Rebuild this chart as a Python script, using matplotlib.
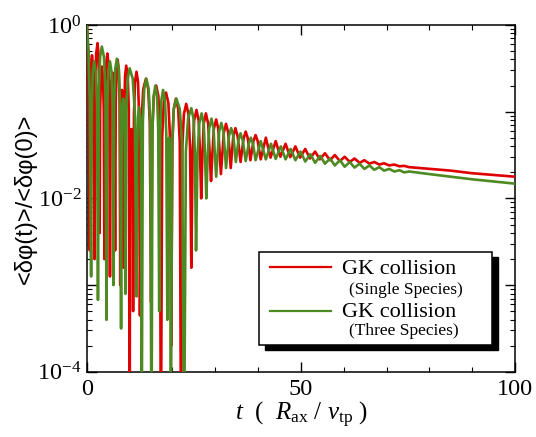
import matplotlib
matplotlib.use('Agg')
import matplotlib.pyplot as plt
import numpy as np
from matplotlib.ticker import FixedLocator, LogLocator, NullFormatter
from matplotlib.patches import Rectangle
from matplotlib.lines import Line2D

# ---- data (t, log10 of <dphi(t)>/<dphi(0)>) ----
red_t = [0, 0.3, 0.7,
         0.83, 0.98, 1.2, 1.47, 1.65, 1.8,
         1.98, 2.19, 2.5, 2.72, 2.88, 3.0,
         3.12, 3.28, 3.5, 3.77, 3.95, 4.1,
         4.28, 4.49, 4.8, 5.07, 5.25, 5.4,
         5.55, 5.73, 6.0, 6.27, 6.45, 6.6,
         6.75, 6.93, 7.2, 7.47, 7.65, 7.8,
         7.9, 8.02, 8.2, 8.38, 8.5, 8.6,
         8.75, 8.93, 9.2, 9.56, 9.8, 10.0,
         10.1, 10.22, 10.4, 10.58, 10.7, 10.8,
         11.0, 11.24, 11.6, 11.96, 12.2, 12.4,
         12.75, 13.17, 13.8, 14.34, 14.7, 15.0,
         15.3, 15.66, 16.2, 16.7, 17.03, 17.3,
         17.6, 17.96, 18.5, 19.04, 19.4, 19.7,
         19.98, 20.3, 20.8, 21.34, 21.7, 22.0,
         22.3, 22.66, 23.2, 23.74, 24.1, 24.4,
         24.7, 25.06, 25.6, 26.1, 26.43, 26.7,
         27.0, 27.3, 27.8, 28.34, 28.7, 29.0,
         29.3, 29.66, 30.2, 30.7, 31.0, 31.3,
         32.0, 32.5, 33.0, 33.6,
         34.2, 34.7, 35.2, 35.9,
         36.6, 37.1, 37.6, 38.2,
         38.9, 39.4, 39.9, 40.6,
         41.8, 42.9, 44.1, 45.2, 46.4, 47.5, 48.7, 49.8, 51.0, 52.1,
         53.3, 54.4, 55.6, 56.8, 57.9, 59.1, 60.2, 61.4, 62.5, 63.7,
         64.8, 66.0, 67.1, 68.3, 69.4, 70.6, 71.8, 73.0, 74.1, 75.3,
         80, 85, 90, 95, 100]
red_log = [0, -0.3, -2.6,
           -0.85, -0.47, -0.35, -0.47, -0.85, -2.7,
           -0.71, -0.33, -0.21, -0.33, -0.71, -2.4,
           -0.98, -0.6, -0.48, -0.6, -0.98, -2.7,
           -0.83, -0.45, -0.33, -0.45, -0.83, -2.9,
           -1.05, -0.67, -0.55, -0.67, -1.05, -2.6,
           -0.9, -0.52, -0.40, -0.52, -0.9, -3.0,
           -1.25, -0.87, -0.75, -0.87, -1.25, -2.8,
           -0.97, -0.59, -0.47, -0.59, -0.97, -5,
           -1.7, -1.32, -1.2, -1.32, -1.7, -3.3,
           -1.04, -0.66, -0.54, -0.66, -1.04, -3.35,
           -1.12, -0.74, -0.62, -0.74, -1.12, -3.2,
           -1.2, -0.82, -0.70, -0.82, -1.2, -5,
           -1.28, -0.9, -0.78, -0.9, -1.28, -3.7,
           -1.35, -0.97, -0.85, -0.97, -1.35, -5,
           -1.41, -1.03, -0.91, -1.03, -1.41, -2.8,
           -1.48, -1.1, -0.98, -1.1, -1.48, -2.0,
           -1.5, -1.14, -1.02, -1.14, -1.5, -1.8,
           -1.5, -1.2, -1.09, -1.2, -1.45, -1.72,
           -1.24, -1.14, -1.24, -1.65,
           -1.28, -1.19, -1.28, -1.58,
           -1.31, -1.23, -1.31, -1.56,
           -1.34, -1.27, -1.34, -1.55,
           -1.30, -1.53, -1.34, -1.52, -1.37, -1.525, -1.40, -1.53, -1.43, -1.54,
           -1.46, -1.55, -1.48, -1.56, -1.50, -1.57, -1.52, -1.58, -1.54, -1.59,
           -1.56, -1.60, -1.58, -1.61, -1.595, -1.62, -1.61, -1.63, -1.625, -1.64,
           -1.66, -1.68, -1.71, -1.73, -1.75]

green_t = [0, 0.4, 0.7, 1.0,
           1.18, 1.39, 1.7, 2.1, 2.38, 2.6,
           2.83, 3.1, 3.5, 4.0, 4.33, 4.6,
           4.8, 5.04, 5.4, 5.76, 6.0, 6.2,
           6.4, 6.64, 7.0, 7.45, 7.75, 8.0,
           8.13, 8.28, 8.5, 8.72, 8.87, 9.0,
           9.25, 9.55, 10.0, 10.72, 11.2, 11.6,
           11.75, 11.93, 12.2, 12.47, 12.65, 12.8,
           13.08, 13.4, 13.9, 14.44, 14.8, 15.1,
           15.33, 15.6, 16.0, 16.4, 16.67, 16.9,
           17.13, 17.4, 17.8, 18.25, 18.55, 18.8,
           18.9, 19.02, 19.2, 19.38, 19.5, 19.6,
           19.93, 20.3, 20.9, 21.7, 22.25, 22.7,
           23.13, 23.64, 24.4, 24.9, 25.23, 25.5,
           25.85, 26.25, 26.8, 27.3, 27.6, 27.9,
           28.2, 28.55, 29.1, 29.6, 29.9, 30.2,
           30.9, 31.4, 31.9, 32.5,
           33.2, 33.7, 34.2, 34.8,
           35.4, 35.9, 36.4, 37.1,
           37.8, 38.3, 38.8, 39.4,
           40.6, 41.8, 43.0, 44.1, 45.3, 46.4, 47.6, 48.7, 49.9, 51.0,
           52.2, 53.3, 54.5, 55.6, 56.8, 57.9, 59.1, 60.2, 61.4, 62.5,
           63.7, 64.8, 66.0, 67.1, 68.3, 69.4, 70.6, 71.8, 73.0, 74.1, 75.3,
           80, 85, 90, 95, 100]
green_log = [0, -0.3, -0.9, -2.9,
             -0.92, -0.54, -0.42, -0.54, -0.92, -3.17,
             -0.75, -0.37, -0.25, -0.37, -0.75, -3.4,
             -0.92, -0.54, -0.42, -0.54, -0.92, -3.0,
             -0.89, -0.51, -0.39, -0.51, -0.89, -3.5,
             -1.35, -0.97, -0.85, -0.97, -1.35, -3.1,
             -1.0, -0.62, -0.50, -0.62, -1.0, -3.13,
             -1.45, -1.07, -0.95, -1.07, -1.45, -5,
             -1.12, -0.74, -0.62, -0.74, -1.12, -5,
             -1.2, -0.82, -0.70, -0.82, -1.2, -3.3,
             -1.25, -0.87, -0.75, -0.87, -1.25, -3.4,
             -1.8, -1.42, -1.3, -1.42, -1.8, -5,
             -1.35, -0.97, -0.85, -0.97, -1.35, -5,
             -1.46, -1.08, -0.96, -1.08, -1.46, -2.6,
             -1.5, -1.14, -1.02, -1.14, -1.5, -2.0,
             -1.55, -1.2, -1.08, -1.2, -1.5, -1.75,
             -1.23, -1.13, -1.23, -1.65,
             -1.28, -1.19, -1.28, -1.58,
             -1.33, -1.25, -1.33, -1.57,
             -1.37, -1.30, -1.37, -1.56,
             -1.34, -1.55, -1.37, -1.545, -1.40, -1.55, -1.43, -1.56, -1.46, -1.575,
             -1.49, -1.59, -1.51, -1.60, -1.54, -1.62, -1.56, -1.635, -1.58, -1.645,
             -1.60, -1.66, -1.62, -1.67, -1.64, -1.68, -1.66, -1.69, -1.675, -1.70, -1.69,
             -1.72, -1.75, -1.78, -1.805, -1.83]

x_ticks = [0, 50, 100]
x_ticklabels = ['0', '50', '100']
y_ticks = [1e-4, 1e-3, 1e-2, 1e-1, 1]
y_ticklabels = [r'$10^{-4}$', '', r'$10^{-2}$', '', r'$10^{0}$']
legend_main = ['GK collision', 'GK collision']
legend_sub = ['(Single Species)', '(Three Species)']

RED = '#e00000'
GREEN = '#4e8a22'

plt.rcParams['font.family'] = ['Liberation Serif', 'DejaVu Serif']
plt.rcParams['mathtext.fontset'] = 'custom'
plt.rcParams['mathtext.rm'] = 'Liberation Serif'
plt.rcParams['mathtext.it'] = 'Liberation Serif:italic'

fig = plt.figure(figsize=(5.36, 4.37), dpi=100)
ax = fig.add_axes([0.162, 0.149, 0.799, 0.794])

ax.plot(red_t, 10.0 ** np.array(red_log), color=RED, lw=1.9, zorder=3)
ax.plot(green_t, 10.0 ** np.array(green_log), color=GREEN, lw=1.9, zorder=3)

ax.set_yscale('log')
ax.set_xlim(0, 100)
ax.set_ylim(1e-4, 1)

ax.xaxis.set_major_locator(FixedLocator(x_ticks))
ax.set_xticklabels(x_ticklabels)
ax.xaxis.set_minor_locator(FixedLocator([10, 20, 30, 40, 60, 70, 80, 90]))
ax.yaxis.set_major_locator(FixedLocator(y_ticks))
ax.set_yticklabels(y_ticklabels)
ax.yaxis.set_minor_locator(LogLocator(base=10, subs=np.arange(2, 10) * 1.0, numticks=20))
ax.yaxis.set_minor_formatter(NullFormatter())

ax.tick_params(which='both', direction='in', top=True, right=True, labelsize=17.5)
ax.tick_params(which='major', length=7, width=1)
ax.tick_params(which='minor', length=3.5, width=0.8)
ax.tick_params(axis='x', which='major', pad=5)
ax.tick_params(axis='y', which='major', pad=4)
for s in ax.spines.values():
    s.set_linewidth(1.1)

ax.set_ylabel('<δφ(t)>/<δφ(0)>', family=['Liberation Sans', 'DejaVu Sans'],
              fontsize=17, labelpad=0)
ax.set_xlabel(r'$t$  (  $R_{\mathrm{ax}}$ / $v_{\mathrm{tp}}$ )', fontsize=18, labelpad=0)

# legend drawn by hand (box with black drop shadow)
bx, by, bw, bh = 0.402, 0.078, 0.544, 0.268
ax.add_patch(Rectangle((bx + 0.013, by - 0.016), bw, bh, transform=ax.transAxes,
                       facecolor='black', edgecolor='black', zorder=5))
ax.add_patch(Rectangle((bx, by), bw, bh, transform=ax.transAxes,
                       facecolor='white', edgecolor='black', lw=1.1, zorder=6))
rows = [(0.3026, 0.294, 0.236, RED), (0.176, 0.171, 0.119, GREEN)]
for (ly, my, sy, col), main, sub in zip(rows, legend_main, legend_sub):
    ax.add_line(Line2D([0.4276, 0.570], [ly, ly], transform=ax.transAxes,
                       color=col, lw=1.6, zorder=7))
    ax.text(0.596, my, main, transform=ax.transAxes, fontsize=16,
            va='center', ha='left', zorder=7)
    ax.text(0.612, sy, sub, transform=ax.transAxes, fontsize=12.5,
            va='center', ha='left', zorder=7)

fig.savefig('out.png', dpi=100)
